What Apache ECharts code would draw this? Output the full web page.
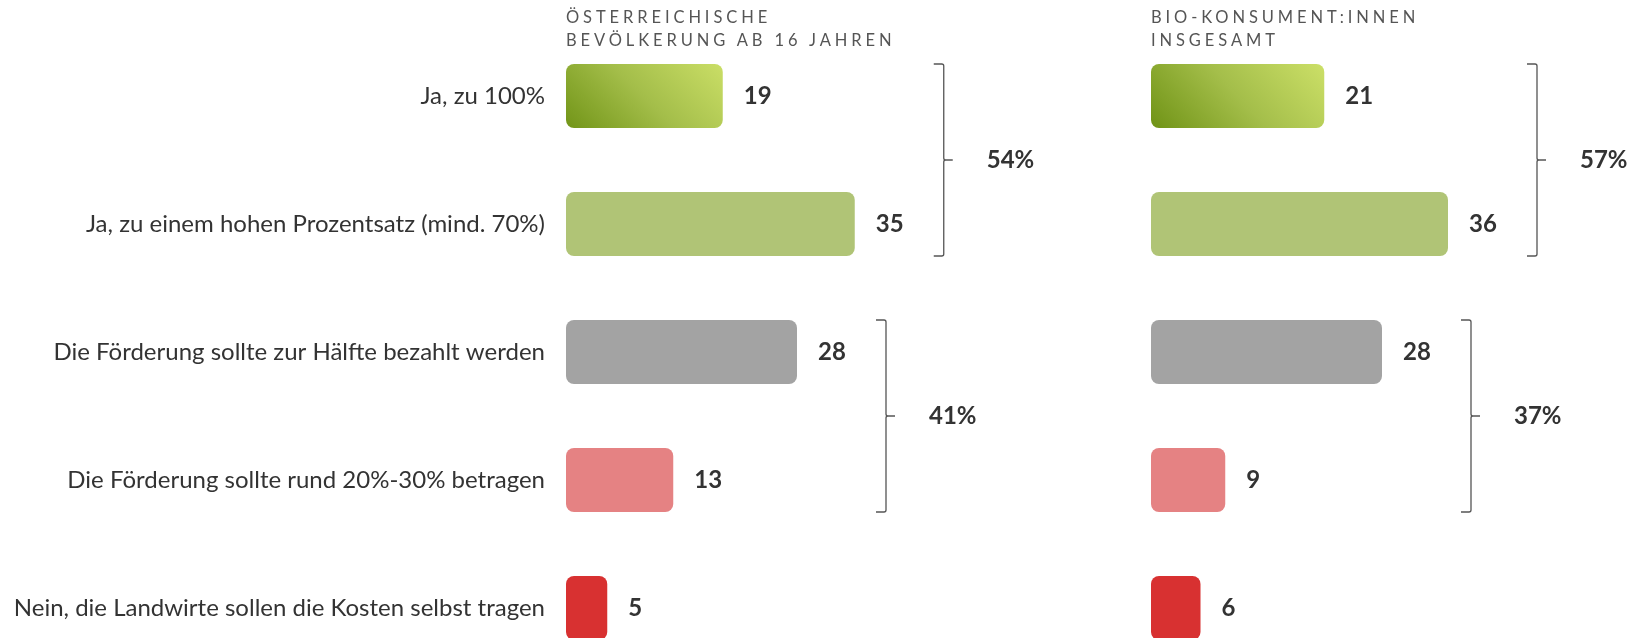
<!DOCTYPE html>
<html>
<head>
<meta charset="utf-8">
<script src="https://cdn.jsdelivr.net/npm/echarts@6/dist/echarts.min.js"></script>
<style>
  html, body { margin: 0; padding: 0; background: #fff; }
  #wrap { position: relative; width: 1633px; height: 638px; overflow: hidden; }
  #chart { width: 1633px; height: 638px; }
  .head {
    position: absolute; top: 6px;
    font-family: Lato, sans-serif; font-size: 16.5px; line-height: 23px;
    letter-spacing: 3.9px; color: #555;
  }
</style>
</head>
<body>
<div id="wrap">
  <div id="chart"></div>
  <div class="head" style="left:566px">ÖSTERREICHISCHE<br>BEVÖLKERUNG AB 16 JAHREN</div>
  <div class="head" style="left:1151px">BIO-KONSUMENT:INNEN<br>INSGESAMT</div>
</div>
<script>
  // answer options, top to bottom
  const categories = [
    'Ja, zu 100%',
    'Ja, zu einem hohen Prozentsatz (mind. 70%)',
    'Die Förderung sollte zur Hälfte bezahlt werden',
    'Die Förderung sollte rund 20%-30% betragen',
    'Nein, die Landwirte sollen die Kosten selbst tragen'
  ];
  const oesterreich = [19, 35, 28, 13, 5];
  const bioKonsument = [21, 36, 28, 9, 6];

  // brackets: [first row, last row, total]
  const oesterreichGroups = [[0, 1, '54%'], [2, 3, '41%']];
  const bioGroups = [[0, 1, '57%'], [2, 3, '37%']];

  const barColors = [
    new echarts.graphic.LinearGradient(0.15, 1.36, 0.85, -0.36, [
      { offset: 0, color: '#729518' },
      { offset: 0.5, color: '#a4be4a' },
      { offset: 1, color: '#cade66' }
    ]),
    '#b0c476',
    '#a3a3a3',
    '#e58283',
    '#d83131'
  ];

  const myChart = echarts.init(document.getElementById('chart'));

  function barData(values) {
    return values.map((v, i) => ({ value: v, itemStyle: { color: barColors[i] } }));
  }

  function bracketData(groups, values) {
    return groups.map((g) => {
      const max = Math.max(...values.slice(g[0], g[1] + 1));
      return [max, g[0], g[1], g[2]];
    });
  }

  function renderBracket(params, api) {
    const max = api.value(0);
    const first = api.value(1);
    const last = api.value(2);
    const half = 32;
    const x = api.coord([max, first])[0] + 89;
    const top = api.coord([max, first])[1] - half;
    const bottom = api.coord([max, last])[1] + half;
    const mid = (top + bottom) / 2;
    const path =
      'M' + (x - 10) + ' ' + top + ' L' + (x - 2) + ' ' + top +
      ' Q' + x + ' ' + top + ' ' + x + ' ' + (top + 2) +
      ' L' + x + ' ' + (mid - 2) +
      ' Q' + x + ' ' + mid + ' ' + (x + 2) + ' ' + mid +
      ' L' + (x + 9) + ' ' + mid +
      ' M' + (x + 2) + ' ' + mid +
      ' Q' + x + ' ' + mid + ' ' + x + ' ' + (mid + 2) +
      ' L' + x + ' ' + (bottom - 2) +
      ' Q' + x + ' ' + bottom + ' ' + (x - 2) + ' ' + bottom +
      ' L' + (x - 10) + ' ' + bottom;
    return {
      type: 'group',
      children: [
        {
          type: 'path',
          shape: { pathData: path },
          style: { fill: null, stroke: '#555', lineWidth: 1.3 }
        },
        {
          type: 'text',
          x: x + 43,
          y: mid,
          style: {
            text: api.value(3),
            font: 'bold 24px Lato',
            fill: '#333',
            verticalAlign: 'middle'
          }
        }
      ]
    };
  }

  const labelStyle = {
    show: true,
    position: 'right',
    distance: 21,
    fontFamily: 'Lato',
    fontWeight: 'bold',
    fontSize: 24,
    color: '#333'
  };

  const option = {
    animation: false,
    textStyle: { fontFamily: 'Lato' },
    grid: [
      { left: 566, top: 32, width: 495, height: 640, outerBoundsMode: 'none' },
      { left: 1151, top: 32, width: 495, height: 640, outerBoundsMode: 'none' }
    ],
    xAxis: [
      { type: 'value', gridIndex: 0, min: 0, max: 60, show: false },
      { type: 'value', gridIndex: 1, min: 0, max: 60, show: false }
    ],
    yAxis: [
      {
        type: 'category',
        gridIndex: 0,
        data: categories,
        inverse: true,
        axisLine: { show: false },
        axisTick: { show: false },
        axisLabel: { margin: 21, fontSize: 24, color: '#333', fontFamily: 'Lato' }
      },
      {
        type: 'category',
        gridIndex: 1,
        data: categories,
        inverse: true,
        axisLine: { show: false },
        axisTick: { show: false },
        axisLabel: { show: false }
      }
    ],
    series: [
      {
        type: 'bar',
        xAxisIndex: 0,
        yAxisIndex: 0,
        barWidth: 64,
        itemStyle: { borderRadius: 8 },
        label: labelStyle,
        data: barData(oesterreich)
      },
      {
        type: 'bar',
        xAxisIndex: 1,
        yAxisIndex: 1,
        barWidth: 64,
        itemStyle: { borderRadius: 8 },
        label: labelStyle,
        data: barData(bioKonsument)
      },
      {
        type: 'custom',
        xAxisIndex: 0,
        yAxisIndex: 0,
        renderItem: renderBracket,
        encode: { x: 0, y: 1 },
        data: bracketData(oesterreichGroups, oesterreich)
      },
      {
        type: 'custom',
        xAxisIndex: 1,
        yAxisIndex: 1,
        renderItem: renderBracket,
        encode: { x: 0, y: 1 },
        data: bracketData(bioGroups, bioKonsument)
      }
    ]
  };

  myChart.setOption(option);
</script>
</body>
</html>
